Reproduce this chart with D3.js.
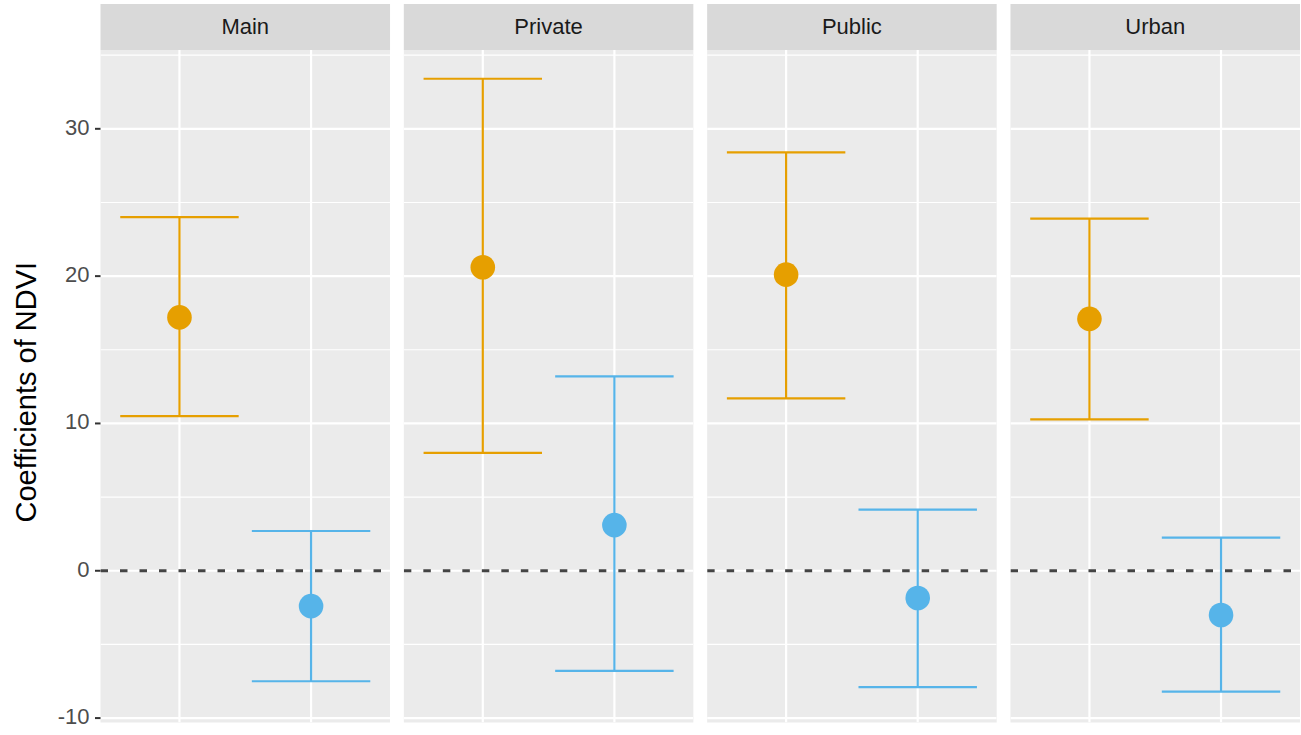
<!DOCTYPE html>
<html>
<head>
<meta charset="utf-8">
<script src="https://cdn.jsdelivr.net/npm/d3@7"></script>
<style>
html,body{margin:0;padding:0;background:#fff;}
svg{display:block;font-family:"Liberation Sans",Arial,Helvetica,sans-serif;}
</style>
</head>
<body>
<svg id="chart" width="1301" height="735"></svg>
<script>
// ---- data ----
const panels = ["Main", "Private", "Public", "Urban"];
const groups = ["Group 1", "Group 2"];
const groupColors = ["#E69F00", "#56B4E9"];
const estG1 = [17.2, 20.6, 20.1, 17.1];
const lowG1 = [10.5, 8.0, 11.7, 10.27];
const highG1 = [24.0, 33.4, 28.4, 23.9];
const estG2 = [-2.4, 3.1, -1.85, -3.0];
const lowG2 = [-7.5, -6.8, -7.9, -8.2];
const highG2 = [2.7, 13.2, 4.15, 2.25];
const yTicks = [-10, 0, 10, 20, 30];
const yMinor = [-5, 5, 15, 25, 35];
const yTitle = "Coefficients of NDVI";

// ---- layout ----
const svg = d3.select("#chart");
const left = 100.5, right = 1300, gap = 13.8;
const stripTop = 4, stripBottom = 50, plotBottom = 722.5;
const pw = (right - left - 3 * gap) / 4;

const fx = d3.scaleBand().domain(panels).range([left, right]).paddingInner(gap / (pw + gap)).paddingOuter(0);
const y = d3.scaleLinear().domain([-10.3, 35.35]).range([plotBottom, stripBottom]);

const rows = [];
panels.forEach((p, i) => {
  rows.push({panel: p, group: groups[0], est: estG1[i], lo: lowG1[i], hi: highG1[i], color: groupColors[0]});
  rows.push({panel: p, group: groups[1], est: estG2[i], lo: lowG2[i], hi: highG2[i], color: groupColors[1]});
});

const defs = svg.append("defs");

panels.forEach((p, i) => {
  const x0 = fx(p), w = fx.bandwidth();
  const x = d3.scaleLinear().domain([0.4, 2.6]).range([x0, x0 + w]);
  const xPos = g => groups.indexOf(g) + 1;

  defs.append("clipPath").attr("id", "clip" + i)
    .append("rect").attr("x", x0).attr("y", stripBottom).attr("width", w).attr("height", plotBottom - stripBottom);

  const g = svg.append("g");
  // strip
  g.append("rect").attr("x", x0).attr("y", stripTop).attr("width", w).attr("height", stripBottom - stripTop).attr("fill", "#D9D9D9");
  g.append("text").attr("x", x0 + w / 2).attr("y", (stripTop + stripBottom) / 2 + 1)
    .attr("text-anchor", "middle").attr("dominant-baseline", "middle")
    .attr("font-size", 22).attr("fill", "#1a1a1a").text(p);
  // panel bg
  g.append("rect").attr("x", x0).attr("y", stripBottom).attr("width", w).attr("height", plotBottom - stripBottom).attr("fill", "#EBEBEB");

  const body = g.append("g").attr("clip-path", "url(#clip" + i + ")");
  // minor grid
  body.selectAll(".ymin").data(yMinor).join("line")
    .attr("x1", x0).attr("x2", x0 + w).attr("y1", d => y(d)).attr("y2", d => y(d))
    .attr("stroke", "#fff").attr("stroke-width", 1.1);
  // major grid
  body.selectAll(".ymaj").data(yTicks).join("line")
    .attr("x1", x0).attr("x2", x0 + w).attr("y1", d => y(d)).attr("y2", d => y(d))
    .attr("stroke", "#fff").attr("stroke-width", 2.2);
  body.selectAll(".xmaj").data(groups).join("line")
    .attr("x1", d => x(xPos(d))).attr("x2", d => x(xPos(d))).attr("y1", stripBottom).attr("y2", plotBottom)
    .attr("stroke", "#fff").attr("stroke-width", 2.2);
  // zero line
  body.append("line").attr("x1", x0).attr("x2", x0 + w).attr("y1", y(0)).attr("y2", y(0))
    .attr("stroke", "#444").attr("stroke-width", 3).attr("stroke-dasharray", "7.5,12");

  const data = rows.filter(r => r.panel === p);
  const capW = 0.9;
  const eb = body.selectAll(".eb").data(data).join("g");
  eb.append("line").attr("x1", d => x(xPos(d.group))).attr("x2", d => x(xPos(d.group)))
    .attr("y1", d => y(d.lo)).attr("y2", d => y(d.hi)).attr("stroke", d => d.color).attr("stroke-width", 2.2);
  eb.append("line").attr("x1", d => x(xPos(d.group) - capW / 2)).attr("x2", d => x(xPos(d.group) + capW / 2))
    .attr("y1", d => y(d.hi)).attr("y2", d => y(d.hi)).attr("stroke", d => d.color).attr("stroke-width", 2.2);
  eb.append("line").attr("x1", d => x(xPos(d.group) - capW / 2)).attr("x2", d => x(xPos(d.group) + capW / 2))
    .attr("y1", d => y(d.lo)).attr("y2", d => y(d.lo)).attr("stroke", d => d.color).attr("stroke-width", 2.2);
  body.selectAll(".pt").data(data).join("circle")
    .attr("cx", d => x(xPos(d.group))).attr("cy", d => y(d.est)).attr("r", 12.3).attr("fill", d => d.color);
});

// y axis
const ax = svg.append("g");
ax.selectAll(".tk").data(yTicks).join("line")
  .attr("x1", left - 5.5).attr("x2", left).attr("y1", d => y(d)).attr("y2", d => y(d))
  .attr("stroke", "#333").attr("stroke-width", 2);
ax.selectAll(".tl").data(yTicks).join("text")
  .attr("x", left - 11).attr("y", d => y(d)).attr("text-anchor", "end").attr("dominant-baseline", "middle")
  .attr("font-size", 22).attr("fill", "#4d4d4d").text(d => d);

svg.append("text").attr("transform", `translate(36,${(stripBottom + plotBottom) / 2 + 6}) rotate(-90)`)
  .attr("text-anchor", "middle").attr("font-size", 29).attr("fill", "#000").text(yTitle);
</script>
</body>
</html>
